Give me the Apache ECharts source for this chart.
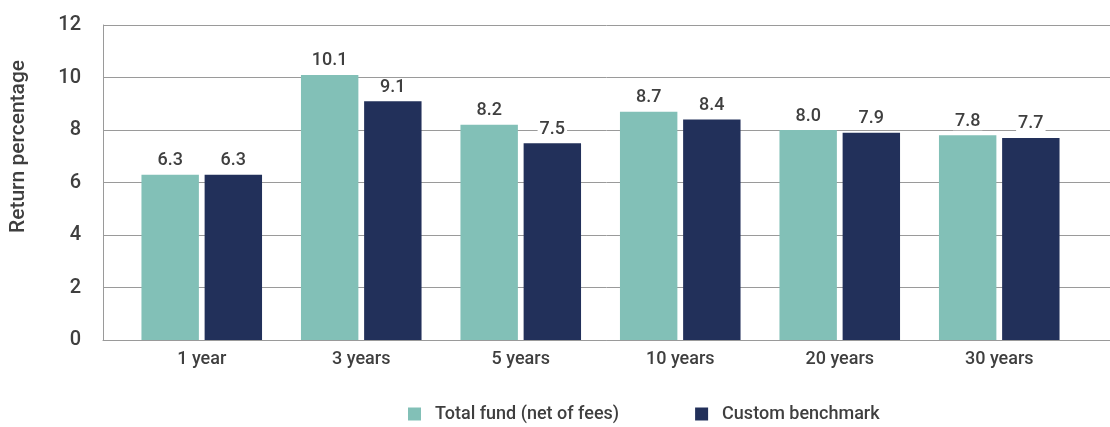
<!DOCTYPE html>
<html>
<head>
    <meta charset="utf-8">
    <title>ECharts</title>
    <script src="https://cdn.jsdelivr.net/npm/echarts@6/dist/echarts.min.js"></script>
    <style>
        html, body { margin: 0; padding: 0; background: #fff; }
    </style>
</head>
<body>
    <div id="main" style="width: 1110px;height:427px;"></div>
    <script type="text/javascript">
        var periods = ['1 year', '3 years', '5 years', '10 years', '20 years', '30 years'];
        var totalFund = [6.3, 10.1, 8.2, 8.7, 8.0, 7.8];
        var benchmark = [6.3, 9.1, 7.5, 8.4, 7.9, 7.7];
        var seriesNames = ['Total fund (net of fees)', 'Custom benchmark'];
        var yTicks = [0, 2, 4, 6, 8, 10, 12];

        var font = '"Roboto", "Liberation Sans", sans-serif';
        var textColor = '#3f3f3f';
        var lineColor = '#9a9a9a';

        var myChart = echarts.init(document.getElementById('main'));

        function barLabel() {
            return {
                show: true,
                position: 'top',
                distance: 5,
                color: textColor,
                fontFamily: font,
                fontWeight: 500,
                fontSize: 18,
                backgroundColor: '#fff',
                padding: [0, 2, 0, 2],
                formatter: function (p) { return p.value.toFixed(1); }
            };
        }

        var option = {
            animation: false,
            textStyle: { fontFamily: font },
            legend: {
                data: seriesNames,
                left: 403,
                top: 400,
                icon: 'rect',
                itemWidth: 13,
                itemHeight: 13,
                itemGap: 76,
                textStyle: { color: textColor, fontSize: 18, fontWeight: 500, fontFamily: font, padding: [0, 0, 0, 9] }
            },
            // grid 0 = frame with gridlines, grid 1 = where the bars sit
            grid: [
                { left: 101, right: 0, top: 25, bottom: 87 },
                { left: 122, right: 31, top: 25, bottom: 87 }
            ],
            xAxis: [
                {
                    gridIndex: 0, type: 'category', data: periods,
                    axisLine: { show: true, lineStyle: { color: lineColor, width: 1 } },
                    axisTick: { show: false }, axisLabel: { show: false }
                },
                {
                    gridIndex: 1, type: 'category', data: periods,
                    axisLine: { show: false }, axisTick: { show: false },
                    axisLabel: { color: textColor, fontSize: 18, fontWeight: 500, fontFamily: font, margin: 10 }
                }
            ],
            yAxis: [
                {
                    gridIndex: 0, type: 'value',
                    min: yTicks[0], max: yTicks[yTicks.length - 1], interval: 2,
                    name: 'Return percentage',
                    nameLocation: 'middle',
                    nameGap: 74,
                    nameTextStyle: { color: textColor, fontSize: 21, fontWeight: 500, fontFamily: font, padding: [0, 0, 0, 72] },
                    axisLine: { show: true, lineStyle: { color: lineColor, width: 1 } },
                    axisTick: { show: false },
                    axisLabel: { color: textColor, fontSize: 20, fontWeight: 500, fontFamily: font, margin: 22, padding: [0, 0, 14, 0] },
                    splitLine: { show: true, lineStyle: { color: lineColor, width: 1 } }
                },
                {
                    gridIndex: 1, type: 'value',
                    min: yTicks[0], max: yTicks[yTicks.length - 1], interval: 2,
                    axisLine: { show: false }, axisTick: { show: false },
                    axisLabel: { show: false }, splitLine: { show: false }
                }
            ],
            series: [
                {
                    name: seriesNames[0], type: 'bar',
                    xAxisIndex: 1, yAxisIndex: 1,
                    data: totalFund,
                    barWidth: '36%', barGap: '10%',
                    itemStyle: { color: '#82c0b7' },
                    label: barLabel(),
                    z: 3
                },
                {
                    name: seriesNames[1], type: 'bar',
                    xAxisIndex: 1, yAxisIndex: 1,
                    data: benchmark,
                    barWidth: '36%', barGap: '10%',
                    itemStyle: { color: '#22305a' },
                    label: barLabel(),
                    z: 3
                }
            ]
        };

        myChart.setOption(option);
    </script>
</body>
</html>
